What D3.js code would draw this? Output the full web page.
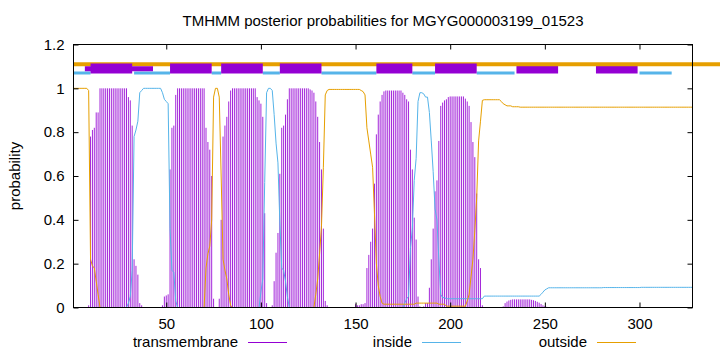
<!DOCTYPE html>
<html>
<head>
<meta charset="utf-8">
<script src="https://cdnjs.cloudflare.com/ajax/libs/d3/7.8.5/d3.min.js"></script>
<style>
  body { margin: 0; background: #fff; }
  svg { display: block; font-family: "Liberation Sans", Arial, sans-serif; }
</style>
</head>
<body>
<svg id="chart"></svg>
<script>
const chartTitle = "TMHMM posterior probabilities for MGYG000003199_01523";
const seqLength = 328;
const xTicks = [50, 100, 150, 200, 250, 300];
const yTicks = [0, 0.2, 0.4, 0.6, 0.8, 1, 1.2];
const seriesNames = ["transmembrane", "inside", "outside"];

// posterior probability per residue (1..328)
const transmembrane = [
  0,0,0,0,0,0,0,0,0.01,0.78,
  0.81,0.82,0.89,0.89,1,1,1,1,1,1,
  1,1,1,1,1,1,1,1,1,0.96,
  0.945,0.83,0.22,0.19,0.15,0.02,0.01,0,0,0,
  0,0,0,0,0,0,0,0.01,0.05,0.055,
  0.06,0.63,0.82,0.83,0.97,1,1,1,1,1,
  1,1,1,1,1,1,1,1,1,1,
  0.82,0.755,0.72,0.6,0.04,0,0,0.04,0.4,0.78,
  0.83,0.87,0.94,0.99,1,1,1,1,1,1,
  1,1,1,1,1,1,1,0.96,0.945,0.93,
  0.87,0.43,0.02,0,0,0.01,0.12,0.25,0.34,0.61,
  0.82,0.83,0.88,0.95,1,1,1,1,1,1,
  1,1,1,1,1,0.995,0.99,0.98,0.94,0.87,
  0.755,0.63,0.36,0.03,0.01,0,0,0,0,0,
  0,0,0,0,0,0,0,0,0,0.015,
  0.01,0.01,0.015,0.015,0.02,0.18,0.24,0.3,0.36,0.565,
  0.79,0.88,0.94,0.97,0.986,0.99,0.99,0.99,0.99,0.99,
  0.99,0.99,0.99,0.99,0.98,0.97,0.95,0.94,0.72,0.63,
  0.41,0.31,0.05,0.005,0,0.005,0.02,0.02,0.09,0.22,
  0.36,0.53,0.58,0.76,0.92,0.935,0.945,0.95,0.96,0.963,
  0.963,0.963,0.963,0.963,0.963,0.963,0.963,0.953,0.94,0.92,
  0.846,0.755,0.686,0.52,0.22,0.18,0.01,0,0,0,
  0,0,0,0,0,0,0,0.005,0.02,0.027,
  0.032,0.035,0.037,0.037,0.037,0.037,0.037,0.037,0.037,0.037,
  0.037,0.037,0.035,0.033,0.03,0.026,0.022,0.016,0.01,0.006,
  0.003,0,0,0,0,0,0,0,0,0,
  0,0,0,0,0,0,0,0,0,0,
  0,0,0,0,0,0,0,0,0,0,
  0,0,0,0,0,0,0,0,0,0,
  0,0,0,0,0,0,0,0,0,0,
  0,0,0,0,0,0,0,0,0,0,
  0,0,0,0,0,0,0,0,0,0,
  0,0,0,0,0,0,0,0
];

const inside = [
  0,0,0,0,0,0,0,0,0,0,
  0,0,0,0,0,0,0,0,0,0,
  0,0,0,0,0,0,0,0,0,0.02,
  0.05,0.17,0.78,0.81,0.85,0.98,0.99,1,1,1,
  1,1,1,1,1,1,1,0.98,0.95,0.94,
  0.93,0.36,0.17,0.16,0.03,0,0,0,0,0,
  0,0,0,0,0,0,0,0,0,0,
  0,0,0,0,0,0,0,0,0,0,
  0,0,0,0,0,0,0,0,0,0,
  0,0,0,0,0,0,0,0,0,0.07,
  0.13,0.57,0.98,1,1,0.99,0.88,0.75,0.66,0.39,
  0.18,0.17,0.12,0.05,0,0,0,0,0,0,
  0,0,0,0,0,0,0,0,0,0,
  0,0,0,0,0,0,0,0,0,0,
  0,0,0,0,0,0,0,0,0,0,
  0,0,0,0,0,0,0,0,0,0,
  0,0,0,0,0,0,0,0,0,0,
  0,0,0,0,0,0.02,0.04,0.05,0.27,0.36,
  0.58,0.68,0.94,0.98,0.98,0.975,0.96,0.96,0.89,0.76,
  0.62,0.45,0.4,0.22,0.06,0.045,0.045,0.04,0.04,0.04,
  0.04,0.04,0.04,0.04,0.04,0.04,0.04,0.04,0.04,0.04,
  0.04,0.04,0.04,0.04,0.04,0.04,0.04,0.052,0.052,0.052,
  0.052,0.052,0.052,0.052,0.052,0.052,0.052,0.052,0.052,0.052,
  0.052,0.052,0.052,0.052,0.052,0.052,0.052,0.052,0.052,0.052,
  0.052,0.052,0.052,0.052,0.052,0.052,0.052,0.06,0.07,0.08,
  0.085,0.09,0.09,0.09,0.09,0.09,0.09,0.09,0.09,0.09,
  0.09,0.09,0.09,0.09,0.09,0.09,0.09,0.09,0.09,0.09,
  0.09,0.09,0.09,0.09,0.09,0.09,0.09,0.09,0.09,0.09,
  0.091,0.091,0.091,0.091,0.091,0.091,0.091,0.091,0.091,0.091,
  0.091,0.091,0.091,0.091,0.091,0.091,0.091,0.091,0.091,0.091,
  0.092,0.092,0.092,0.092,0.092,0.092,0.092,0.092,0.092,0.092,
  0.092,0.092,0.092,0.092,0.092,0.092,0.092,0.092,0.092,0.092,
  0.092,0.092,0.092,0.092,0.092,0.092,0.092,0.092
];

const outside = [
  1,1,1,1,1,1,1,1,0.99,0.22,
  0.19,0.18,0.12,0.06,0,0,0,0,0,0,
  0,0,0,0,0,0,0,0,0,0,
  0,0,0,0,0,0,0,0,0,0,
  0,0,0,0,0,0,0,0,0,0,
  0,0,0,0,0,0,0,0,0,0,
  0,0,0,0,0,0,0,0,0,0,
  0.18,0.245,0.28,0.4,0.96,1,1,0.96,0.6,0.22,
  0.17,0.13,0.06,0.01,0,0,0,0,0,0,
  0,0,0,0,0,0,0,0,0,0,
  0,0,0,0,0,0,0,0,0,0,
  0,0,0,0,0,0,0,0,0,0,
  0,0,0,0,0,0,0,0,0.06,0.13,
  0.245,0.37,0.64,0.97,0.99,0.995,0.995,0.995,0.995,0.995,
  0.995,0.995,0.995,0.995,0.995,0.995,0.995,0.995,0.995,0.995,
  0.995,0.995,0.99,0.985,0.97,0.82,0.76,0.7,0.64,0.43,
  0.2,0.1,0.05,0.02,0.015,0.015,0.015,0.015,0.015,0.015,
  0.015,0.015,0.015,0.015,0.015,0.015,0.015,0.015,0.015,0.015,
  0.015,0.02,0.02,0.02,0.02,0.02,0.02,0.02,0.02,0.02,
  0.02,0.02,0.02,0.015,0.015,0.015,0.015,0.006,0.006,0.006,
  0.006,0.006,0.006,0.006,0.006,0.006,0.006,0.006,0.03,0.06,
  0.14,0.22,0.35,0.5,0.76,0.85,0.945,0.948,0.948,0.948,
  0.948,0.948,0.948,0.948,0.948,0.948,0.94,0.93,0.925,0.92,
  0.92,0.92,0.916,0.916,0.916,0.916,0.914,0.914,0.914,0.914,
  0.914,0.914,0.914,0.914,0.914,0.914,0.914,0.914,0.914,0.914,
  0.914,0.914,0.914,0.914,0.914,0.914,0.914,0.914,0.914,0.914,
  0.914,0.914,0.914,0.914,0.914,0.914,0.914,0.914,0.914,0.914,
  0.914,0.914,0.914,0.914,0.914,0.914,0.914,0.914,0.914,0.914,
  0.914,0.914,0.914,0.914,0.914,0.914,0.914,0.914,0.914,0.914,
  0.914,0.914,0.914,0.914,0.914,0.914,0.914,0.914,0.914,0.914,
  0.914,0.914,0.914,0.914,0.914,0.914,0.914,0.914,0.914,0.914,
  0.914,0.914,0.914,0.914,0.914,0.914,0.914,0.914,0.914,0.914,
  0.914,0.914,0.914,0.914,0.914,0.914,0.914,0.914
];

// predicted topology drawn above the curves, [start, end] residues
const tmSegments = [[10, 32], [52, 74], [79, 101], [110, 132], [161, 180], [192, 214], [235, 257], [277, 299]];
const tmSegmentsThin = [[7, 43]];
const insideSegments = [[1, 10], [33, 52], [74, 79], [101, 110], [132, 161], [180, 192], [214, 234], [300, 317]];
const outsideSegments = [[1, 345]];

const colors = {transmembrane: "#9400d3", inside: "#56b4e9", outside: "#e69f00"};

class PosteriorPlot {
  constructor(_config) {
    this.config = {
      parentElement: _config.parentElement,
      containerWidth: _config.containerWidth || 720,
      containerHeight: _config.containerHeight || 352,
      margin: {top: 44.5, right: 27.5, bottom: 44.5, left: 73.5},
      fontSize: 15
    };
    this.initVis();
  }

  initVis() {
    let vis = this;
    const m = vis.config.margin;
    vis.width = vis.config.containerWidth - m.left - m.right;
    vis.height = vis.config.containerHeight - m.top - m.bottom;

    vis.xScale = d3.scaleLinear().domain([1, seqLength]).range([0, vis.width]);
    vis.yScale = d3.scaleLinear().domain([0, 1.2]).range([vis.height, 0]);

    vis.svg = d3.select(vis.config.parentElement)
      .attr('width', vis.config.containerWidth)
      .attr('height', vis.config.containerHeight);

    vis.chart = vis.svg.append('g')
      .attr('transform', `translate(${m.left},${m.top})`);
  }

  renderVis() {
    let vis = this;
    const x = vis.xScale, y = vis.yScale;
    const fs = vis.config.fontSize;

    // transmembrane impulses
    const impulses = transmembrane.map((v, i) => ({pos: i + 1, v})).filter(d => d.v > 0);
    vis.chart.append('g').selectAll('line')
      .data(impulses)
      .join('line')
      .attr('x1', d => x(d.pos)).attr('x2', d => x(d.pos))
      .attr('y1', y(0)).attr('y2', d => y(d.v))
      .attr('stroke', colors.transmembrane)
      .attr('stroke-width', 0.85);

    // inside / outside curves
    const line = d3.line().x((d, i) => x(i + 1)).y(d => y(d));
    [["inside", inside], ["outside", outside]].forEach(([name, vals]) => {
      vis.chart.append('path')
        .datum(vals)
        .attr('d', line)
        .attr('fill', 'none')
        .attr('stroke', colors[name])
        .attr('stroke-width', 1);
    });

    // topology band (not clipped, the orange bar runs off to the right)
    const band = vis.chart.append('g');
    const seg = (list, level, color, w) => {
      band.append('g').selectAll('line')
        .data(list)
        .join('line')
        .attr('x1', d => x(d[0])).attr('x2', d => x(d[1]))
        .attr('y1', y(level)).attr('y2', y(level))
        .attr('stroke', color)
        .attr('stroke-width', w);
    };
    seg(tmSegments.slice(6), 1.09, colors.transmembrane, 10);
    seg(outsideSegments, 1.11, colors.outside, 4);
    seg(insideSegments, 1.07, colors.inside, 3);
    seg(tmSegments.slice(0, 6), 1.09, colors.transmembrane, 10);
    seg(tmSegmentsThin, 1.089, colors.transmembrane, 5);

    // axes: ticks point inward, mirrored on top and right
    const styleAxis = g => {
      g.select('.domain').remove();
      g.selectAll('line').attr('stroke', '#000');
      g.selectAll('text').attr('fill', '#000');
      g.attr('font-size', fs).attr('font-family', '"Liberation Sans", Arial, sans-serif');
    };
    vis.chart.append('g')
      .call(d3.axisLeft(y).tickValues(yTicks).tickSize(-5).tickPadding(9).tickFormat(d3.format('~g')))
      .call(styleAxis);
    vis.chart.append('g')
      .attr('transform', `translate(${vis.width},0)`)
      .call(d3.axisRight(y).tickValues(yTicks).tickSize(-5).tickFormat(''))
      .call(styleAxis);
    vis.chart.append('g')
      .attr('transform', `translate(0,${vis.height})`)
      .call(d3.axisBottom(x).tickValues(xTicks).tickSize(-5).tickPadding(11))
      .call(styleAxis);
    vis.chart.append('g')
      .call(d3.axisTop(x).tickValues(xTicks).tickSize(-5).tickFormat(''))
      .call(styleAxis);

    vis.chart.append('rect')
      .attr('width', vis.width).attr('height', vis.height)
      .attr('fill', 'none').attr('stroke', '#000').attr('stroke-width', 1);

    // title and y label
    vis.svg.append('text')
      .attr('x', vis.config.margin.left + vis.width / 2).attr('y', 26)
      .attr('text-anchor', 'middle').attr('font-size', fs)
      .text(chartTitle);
    vis.svg.append('text')
      .attr('transform', `translate(20,${vis.config.margin.top + vis.height / 2}) rotate(-90)`)
      .attr('text-anchor', 'middle').attr('font-size', fs)
      .text('probability');

    // legend along the bottom
    const legendRight = [238, 412, 587];
    const legend = vis.svg.append('g');
    seriesNames.forEach((name, i) => {
      legend.append('text')
        .attr('x', legendRight[i]).attr('y', 347)
        .attr('text-anchor', 'end').attr('font-size', fs)
        .text(name);
      legend.append('line')
        .attr('x1', legendRight[i] + 10).attr('x2', legendRight[i] + 49)
        .attr('y1', 342.5).attr('y2', 342.5)
        .attr('stroke', colors[name]).attr('stroke-width', 1);
    });
  }
}

const plot = new PosteriorPlot({parentElement: '#chart'});
plot.renderVis();
</script>
</body>
</html>
